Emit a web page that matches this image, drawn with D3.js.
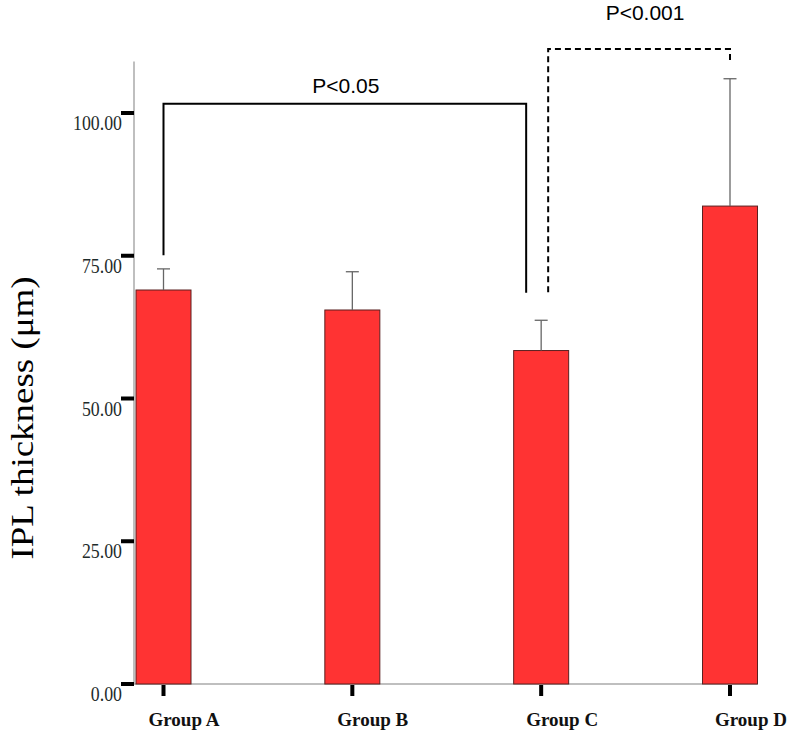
<!DOCTYPE html>
<html>
<head>
<meta charset="utf-8">
<script src="https://cdn.jsdelivr.net/npm/d3@7"></script>
<style>
  html, body { margin: 0; padding: 0; background: #fff; }
  svg { display: block; }
</style>
</head>
<body>
<svg id="chart" width="791" height="732"></svg>
<script>
// chart values
var groups = ["Group A", "Group B", "Group C", "Group D"];
var means = [69.0, 65.5, 58.4, 83.7];
var upper = [72.7, 72.2, 63.7, 106.0];   // mean + error
var yTicks = [0, 25, 50, 75, 100];
var pLabels = ["P<0.05", "P<0.001"];

var svg = d3.select("#chart");

var x = d3.scalePoint().domain(groups).range([163.5, 730]);
var y = d3.scaleLinear().domain([0, 100]).range([684, 113]);
var barW = 55;

// shrink serif text a little so it looks like the original narrow rendering
function squeeze(sel, k) {
  sel.each(function() {
    var w = this.getComputedTextLength();
    d3.select(this).attr("textLength", w * k).attr("lengthAdjust", "spacingAndGlyphs");
  });
}

/*
  axes
*/
svg.append("line")
  .attr("x1", 134).attr("x2", 134)
  .attr("y1", y(0)).attr("y2", y(109))
  .attr("stroke", "#aaa").attr("stroke-width", 1.5);

svg.append("line")
  .attr("x1", 134).attr("x2", x("Group D") + barW / 2)
  .attr("y1", y(0)).attr("y2", y(0))
  .attr("stroke", "#aaa").attr("stroke-width", 1.5);

svg.selectAll(".ytick")
  .data(yTicks)
  .enter().append("rect")
  .attr("class", "ytick")
  .attr("x", 121).attr("width", 13)
  .attr("y", function(d) { return y(d) - 2; })
  .attr("height", 4)
  .attr("fill", "#000");

svg.selectAll(".ylab")
  .data(yTicks)
  .enter().append("text")
  .attr("class", "ylab")
  .attr("x", 122)
  .attr("y", function(d) { return y(d) + 17; })
  .attr("text-anchor", "end")
  .attr("font-family", "Liberation Serif, Times New Roman, serif")
  .attr("font-size", 22)
  .attr("fill", "#1e2b2b")
  .text(function(d) { return d3.format(".2f")(d); })
  .call(squeeze, 0.81);

svg.selectAll(".xtick")
  .data(groups)
  .enter().append("rect")
  .attr("class", "xtick")
  .attr("x", function(d) { return x(d) - 2; })
  .attr("width", 4)
  .attr("y", 685).attr("height", 11)
  .attr("fill", "#000");

svg.selectAll(".xlab")
  .data(groups)
  .enter().append("text")
  .attr("class", "xlab")
  .attr("x", function(d) { return x(d) - 15; })
  .attr("y", 726)
  .attr("font-family", "Liberation Serif, Times New Roman, serif")
  .attr("font-weight", "bold")
  .attr("font-size", 19)
  .attr("fill", "#111")
  .text(function(d) { return d; });

svg.append("text")
  .attr("transform", "translate(33,418) rotate(-90)")
  .attr("text-anchor", "middle")
  .attr("font-family", "Liberation Serif, Times New Roman, serif")
  .attr("font-size", 31)
  .attr("fill", "#000")
  .text("IPL thickness (\u03bcm)")
  .attr("textLength", 283)
  .attr("lengthAdjust", "spacingAndGlyphs");

/*
  bars + error bars
*/
svg.selectAll(".bar")
  .data(groups)
  .enter().append("rect")
  .attr("class", "bar")
  .attr("x", function(d) { return x(d) - barW / 2; })
  .attr("width", barW)
  .attr("y", function(d, i) { return y(means[i]); })
  .attr("height", function(d, i) { return y(0) - y(means[i]); })
  .attr("fill", "#ff3333")
  .attr("stroke", "#5a2020")
  .attr("stroke-width", 1);

var err = svg.selectAll(".err")
  .data(groups)
  .enter().append("g")
  .attr("class", "err")
  .attr("stroke", "#666")
  .attr("stroke-width", 1.3);

err.append("line")
  .attr("x1", function(d) { return x(d); })
  .attr("x2", function(d) { return x(d); })
  .attr("y1", function(d, i) { return y(means[i]); })
  .attr("y2", function(d, i) { return y(upper[i]); });

err.append("line")
  .attr("x1", function(d) { return x(d) - 6.5; })
  .attr("x2", function(d) { return x(d) + 6.5; })
  .attr("y1", function(d, i) { return y(upper[i]); })
  .attr("y2", function(d, i) { return y(upper[i]); });

/*
  significance brackets
*/
var xa = x("Group A"), xc = x("Group C"), xd = x("Group D");

svg.append("path")
  .attr("d", "M" + xa + "," + y(75.1) + "V" + y(101.6) + "H" + (xc - 15) + "V" + y(68.5))
  .attr("fill", "none")
  .attr("stroke", "#000")
  .attr("stroke-width", 2);

svg.append("text")
  .attr("x", (xa + xc - 15) / 2 + 1)
  .attr("y", 93)
  .attr("text-anchor", "middle")
  .attr("font-family", "Liberation Sans, Arial, sans-serif")
  .attr("font-size", 21)
  .attr("fill", "#000")
  .text(pLabels[0]);

svg.append("path")
  .attr("d", "M" + (xc + 7) + "," + y(68.6) + "V" + y(111.2) + "H" + xd + "V" + y(108.75))
  .attr("fill", "none")
  .attr("stroke", "#000")
  .attr("stroke-width", 2)
  .attr("stroke-dasharray", "6,4");

svg.append("text")
  .attr("x", (xc + 7 + xd) / 2 + 6)
  .attr("y", 20)
  .attr("text-anchor", "middle")
  .attr("font-family", "Liberation Sans, Arial, sans-serif")
  .attr("font-size", 21)
  .attr("fill", "#000")
  .text(pLabels[1]);
</script>
</body>
</html>
